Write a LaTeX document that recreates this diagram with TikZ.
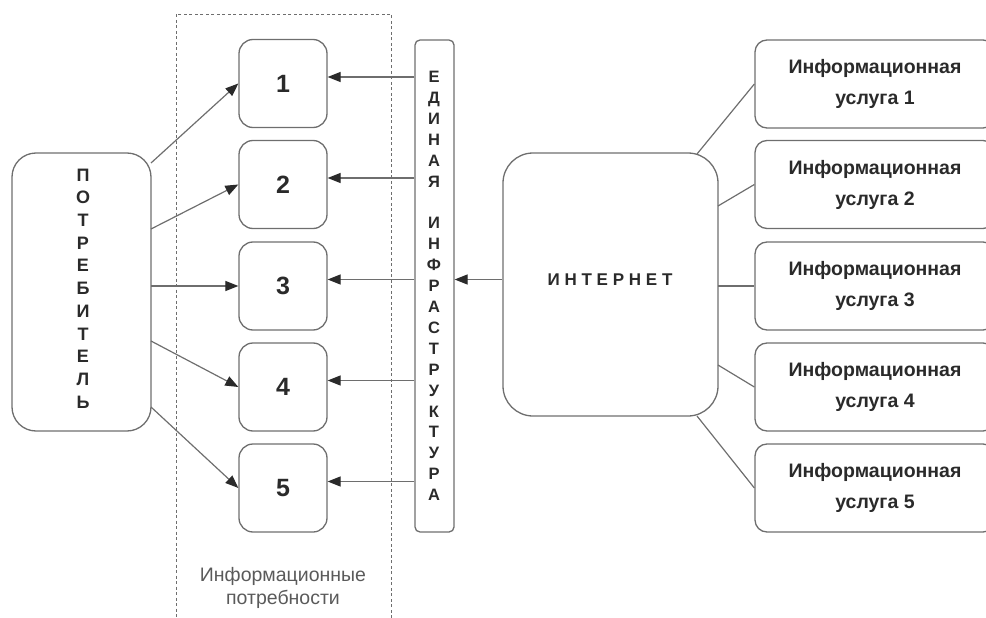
\documentclass[tikz,border=0pt]{standalone}
\usepackage{fontspec}
\setmainfont{Liberation Sans}
\usetikzlibrary{arrows.meta}
\definecolor{ln}{HTML}{6E6E6E}
\definecolor{tx}{HTML}{2A2A2A}
\definecolor{tl}{HTML}{5A5A5A}
\begin{document}
\begin{tikzpicture}[x=1pt,y=-1pt,
  frame/.style={draw=ln, line width=1.3pt, inner sep=0pt, text=tx},
  numbox/.style={frame, rounded corners=14pt, minimum width=88pt, minimum height=88pt,
    font=\bfseries\fontsize{25}{25}\selectfont},
  servbox/.style={frame, rounded corners=12pt, minimum width=240pt, minimum height=88pt,
    align=center, font=\bfseries\fontsize{19.5}{31}\selectfont},
  vtext/.style={align=center, inner sep=0pt, text=tx},
  arr/.style={draw=ln, line width=1.2pt, -{Triangle[length=13pt,width=10pt,fill=tx,color=tx]}},
  link/.style={draw=ln, line width=1.2pt}
]
\useasboundingbox (0,0) rectangle (986,618);
\clip (0,0) rectangle (986,618);

% group (dashed)
\node[draw=ln, dashed, dash pattern=on 3pt off 2.5pt, line width=0.8pt, minimum width=215pt,
  minimum height=620pt, inner sep=0pt] (grp) at (283.5,324) {};
\node[align=center, text=tl, font=\fontsize{19.5}{23}\selectfont] (grplab) at (283,588)
  {Информационные\\потребности};

% consumer
\node[frame, rounded corners=24pt, minimum width=139pt, minimum height=278pt] (cons) at (81.5,292) {};
\node[vtext, font=\bfseries\fontsize{18}{22.7}\selectfont] (constext) at (83,288.5)
  {П\\О\\Т\\Р\\Е\\Б\\И\\Т\\Е\\Л\\Ь};

% needs boxes
\node[numbox] (b1) at (283,83.5) {1};
\node[numbox] (b2) at (283,184.5) {2};
\node[numbox] (b3) at (283,286) {3};
\node[numbox] (b4) at (283,387) {4};
\node[numbox] (b5) at (283,488) {5};

% infrastructure bar
\node[frame, rounded corners=5pt, minimum width=39pt, minimum height=492pt] (bar) at (434.5,286) {};
\node[vtext, font=\bfseries\fontsize{16.5}{20.9}\selectfont] (bartext) at (434,286)
  {Е\\Д\\И\\Н\\А\\Я\\~\\И\\Н\\Ф\\Р\\А\\С\\Т\\Р\\У\\К\\Т\\У\\Р\\А};

% internet
\node[frame, rounded corners=30pt, minimum width=215pt, minimum height=263pt] (inet) at (610.5,284.5) {};
\node[inner sep=0pt, text=tx, font=\bfseries\fontsize{17}{17}\selectfont\addfontfeature{LetterSpace=28}]
  (inettext) at (610,280) {ИНТЕРНЕТ};

% services
\node[servbox] (s1) at (875,84) {Информационная\\услуга 1};
\node[servbox] (s2) at (875,184.5) {Информационная\\услуга 2};
\node[servbox] (s3) at (875,286) {Информационная\\услуга 3};
\node[servbox] (s4) at (875,387) {Информационная\\услуга 4};
\node[servbox] (s5) at (875,488) {Информационная\\услуга 5};

% consumer -> needs
\coordinate (c1) at (151,163);
\coordinate (c2) at (151,229);
\coordinate (c3) at (151,286);
\coordinate (c4) at (151,341);
\coordinate (c5) at (151,407);
\draw[arr] (c1) -- (b1.west);
\draw[arr] (c2) -- (b2.west);
\draw[arr] (c3) -- (b3.west);
\draw[arr] (c4) -- (b4.west);
\draw[arr] (c5) -- (b5.west);

% bar -> needs
\foreach \i in {1,...,5} {
  \coordinate (e\i) at ([yshift=6.5pt]b\i.east);
  \draw[arr] (bar.west |- e\i) -- (e\i);
}

% internet -> bar
\draw[arr] (inet.west |- e3) -- (bar.east |- e3);

% internet -- services
\coordinate (i1) at (697,154);
\coordinate (i2) at (718,206);
\coordinate (i3) at (718,286);
\coordinate (i4) at (718,365);
\coordinate (i5) at (697,416);
\draw[link] (i1) -- (s1.west);
\draw[link] (i2) -- (s2.west);
\draw[link] (i3) -- (s3.west);
\draw[link] (i4) -- (s4.west);
\draw[link] (i5) -- (s5.west);
\end{tikzpicture}
\end{document}
